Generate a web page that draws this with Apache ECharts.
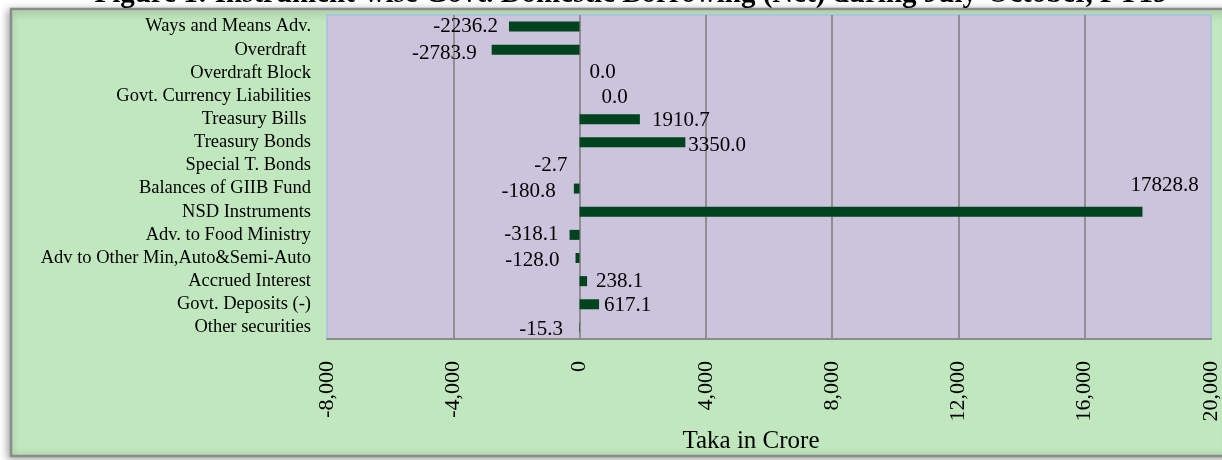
<!DOCTYPE html>
<html>
<head>
<meta charset="utf-8">
<script src="https://cdn.jsdelivr.net/npm/echarts@6/dist/echarts.min.js"></script>
<style>
    html, body { margin: 0; padding: 0; background: #ffffff; }
    #main { width: 1222px; height: 460px; }
</style>
</head>
<body>
<div id="main"></div>
<script>
var titleText = 'Figure 1: Instrument-wise Govt. Domestic Borrowing (Net) during July-October, FY19';

var categories = [
    'Ways and Means Adv.', 'Overdraft ', 'Overdraft Block', 'Govt. Currency Liabilities',
    'Treasury Bills ', 'Treasury Bonds', 'Special T. Bonds', 'Balances of GIIB Fund',
    'NSD Instruments', 'Adv. to Food Ministry', 'Adv to Other Min,Auto&Semi-Auto',
    'Accrued Interest', 'Govt. Deposits (-)', 'Other securities'
];
var values = [-2236.2, -2783.9, 0.0, 0.0, 1910.7, 3350.0, -2.7, -180.8, 17828.8, -318.1, -128.0, 238.1, 617.1, -15.3];

var axisMin = -8000;
var axisMax = 20000;
var axisStep = 4000;

// hand placed data labels, like the original sheet (gap from bar end, vertical shift)
var labelGap = [11, 15, 10, 22, 12, 3, 12, 18, -12, 11, 16, 9, 5, 16];
var labelShift = [0, 4, 0, 1, 1, 3, 0, 3, -26, 0, 2, 0, 1, 2];

var serif = 'Liberation Serif';

function barData()
{
    return values.map(function (v, i) {
        return {
            value: v,
            label: {
                position: v < 0 ? 'left' : 'right',
                distance: labelGap[i],
                offset: [0, labelShift[i]]
            }
        };
    });
}

var myChart = echarts.init(document.getElementById('main'));
var option = {
    animation: false,
    title: {
        text: titleText,
        left: 626,
        top: -25,
        textAlign: 'center',
        textStyle: { fontFamily: serif, fontSize: 29, fontWeight: 'bold', color: '#000' }
    },
    graphic: [
        {
            type: 'rect',
            z: -10,
            shape: { x: 11, y: 9, width: 1222, height: 447 },
            style: {
                fill: '#C0E7BD',
                stroke: '#8B8B8B',
                lineWidth: 2.5,
                shadowBlur: 8,
                shadowColor: 'rgba(0,0,0,0.35)',
                shadowOffsetX: -2,
                shadowOffsetY: 2
            }
        }
    ],
    grid: {
        left: 327,
        top: 15,
        right: 8,
        bottom: 121,
        show: true,
        backgroundColor: '#CCC3DC',
        borderColor: '#A6BEE4',
        borderWidth: 1.5
    },
    xAxis: {
        type: 'value',
        min: axisMin,
        max: axisMax,
        interval: axisStep,
        name: 'Taka in Crore',
        nameLocation: 'middle',
        nameGap: 86,
        nameTextStyle: { fontFamily: serif, fontSize: 25, color: '#000', padding: [0, 36, 0, 0] },
        axisLine: { show: true, lineStyle: { color: '#8C8C8C', width: 2 } },
        axisTick: { show: false },
        splitLine: {
            show: true,
            showMinLine: false,
            showMaxLine: false,
            lineStyle: { color: '#8F8F8F', width: 2 }
        },
        axisLabel: {
            rotate: 90,
            margin: 22,
            fontFamily: serif,
            fontSize: 22,
            color: '#000',
            formatter: function (v) { return v.toLocaleString('en-US'); }
        }
    },
    yAxis: {
        type: 'category',
        inverse: true,
        data: categories,
        axisLine: { show: false },
        axisTick: { show: false },
        splitLine: { show: false },
        axisLabel: { interval: 0, margin: 16, fontFamily: serif, fontSize: 18.5, color: '#000' }
    },
    series: [
        {
            type: 'bar',
            barWidth: 10,
            itemStyle: { color: '#00431F' },
            label: {
                show: true,
                fontFamily: serif,
                fontSize: 21,
                color: '#000',
                formatter: function (p) { return p.value.toFixed(1); }
            },
            data: barData()
        }
    ]
};

myChart.setOption(option);
</script>
</body>
</html>
